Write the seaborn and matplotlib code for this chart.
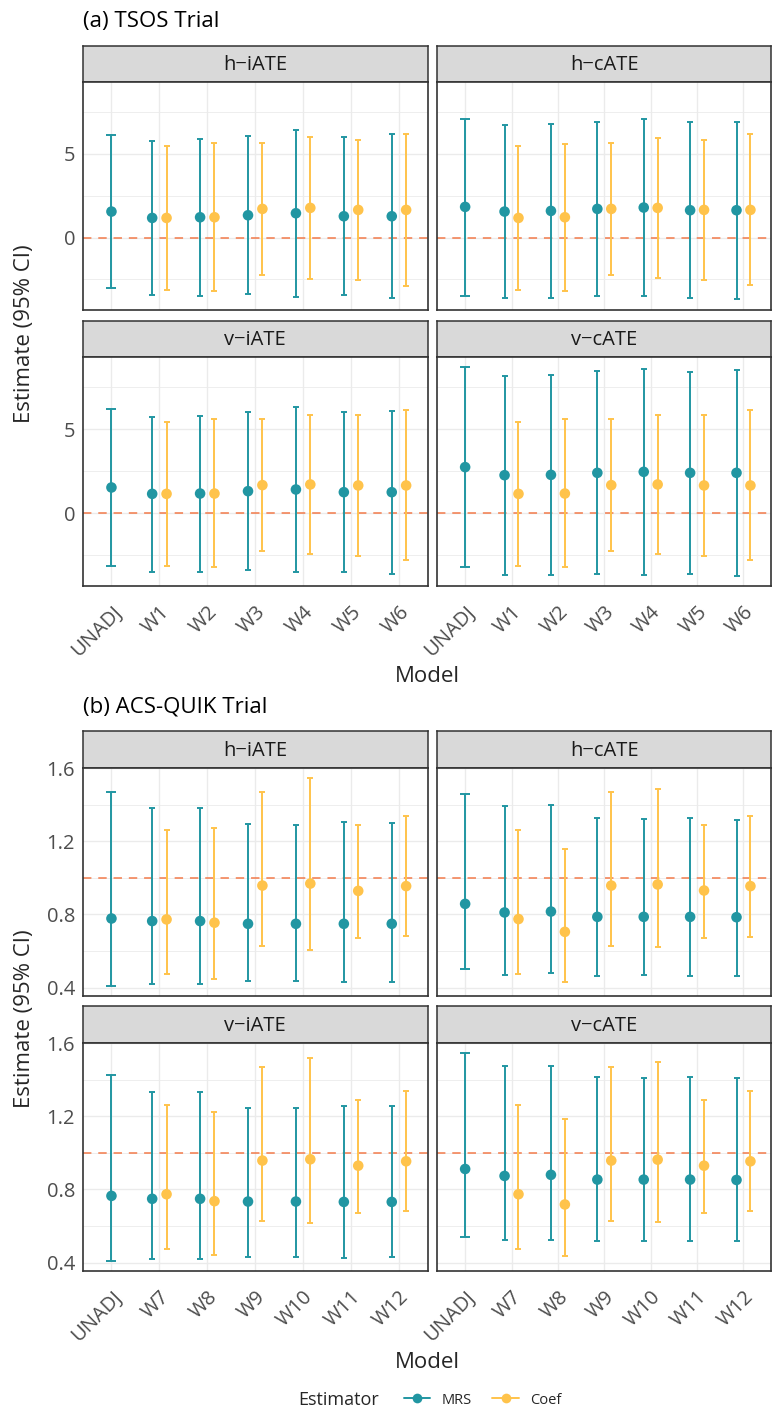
import numpy as np
import pandas as pd
import matplotlib
matplotlib.use("Agg")
import matplotlib.pyplot as plt
import seaborn as sns
from matplotlib.lines import Line2D

sns.set_theme(style="white")
plt.rcParams['font.family'] = ['Open Sans', 'DejaVu Sans']

# ---------------- data ----------------
panel_names = ["h\u2212iATE", "h\u2212cATE", "v\u2212iATE", "v\u2212cATE"]
tsos_models = ["UNADJ", "W1", "W2", "W3", "W4", "W5", "W6"]
acs_models = ["UNADJ", "W7", "W8", "W9", "W10", "W11", "W12"]

# TSOS trial: MRS (all models), Coef (adjusted models only)
tsos_mrs_est = [[1.55, 1.17, 1.21, 1.33, 1.45, 1.27, 1.27],
                [1.83, 1.55, 1.59, 1.71, 1.79, 1.63, 1.63],
                [1.53, 1.15, 1.17, 1.31, 1.41, 1.25, 1.25],
                [2.74, 2.26, 2.28, 2.40, 2.46, 2.40, 2.40]]
tsos_mrs_lo = [[-3.02, -3.41, -3.47, -3.35, -3.53, -3.45, -3.61],
               [-3.49, -3.61, -3.59, -3.49, -3.51, -3.63, -3.69],
               [-3.12, -3.47, -3.47, -3.37, -3.47, -3.47, -3.59],
               [-3.21, -3.65, -3.65, -3.59, -3.65, -3.63, -3.71]]
tsos_mrs_hi = [[6.11, 5.77, 5.89, 6.05, 6.43, 6.01, 6.17],
               [7.08, 6.73, 6.77, 6.88, 7.06, 6.88, 6.92],
               [6.17, 5.75, 5.81, 6.03, 6.29, 5.99, 6.09],
               [8.67, 8.17, 8.21, 8.43, 8.59, 8.41, 8.49]]
tsos_coef_est = [[1.17, 1.21, 1.71, 1.77, 1.65, 1.65],
                 [1.17, 1.21, 1.71, 1.77, 1.65, 1.65],
                 [1.15, 1.17, 1.67, 1.71, 1.65, 1.65],
                 [1.15, 1.17, 1.67, 1.71, 1.65, 1.65]]
tsos_coef_lo = [[-3.12, -3.19, -2.24, -2.48, -2.52, -2.88],
                [-3.12, -3.19, -2.24, -2.44, -2.52, -2.84],
                [-3.15, -3.19, -2.24, -2.42, -2.54, -2.80],
                [-3.13, -3.19, -2.22, -2.40, -2.52, -2.78]]
tsos_coef_hi = [[5.46, 5.62, 5.65, 5.99, 5.85, 6.21],
                [5.44, 5.58, 5.63, 5.93, 5.85, 6.17],
                [5.44, 5.58, 5.62, 5.83, 5.83, 6.11],
                [5.44, 5.58, 5.62, 5.83, 5.83, 6.11]]

# ACS-QUIK trial
acs_mrs_est = [[0.778, 0.764, 0.764, 0.749, 0.749, 0.749, 0.749],
               [0.858, 0.811, 0.816, 0.787, 0.787, 0.787, 0.785],
               [0.765, 0.749, 0.749, 0.734, 0.734, 0.732, 0.732],
               [0.912, 0.874, 0.880, 0.854, 0.854, 0.854, 0.852]]
acs_mrs_lo = [[0.411, 0.422, 0.422, 0.435, 0.436, 0.429, 0.431],
              [0.504, 0.471, 0.478, 0.465, 0.467, 0.465, 0.465],
              [0.411, 0.420, 0.420, 0.433, 0.433, 0.428, 0.429],
              [0.540, 0.522, 0.526, 0.517, 0.518, 0.517, 0.517]]
acs_mrs_hi = [[1.467, 1.384, 1.380, 1.293, 1.289, 1.305, 1.302],
              [1.458, 1.393, 1.396, 1.329, 1.322, 1.327, 1.318],
              [1.428, 1.333, 1.331, 1.246, 1.244, 1.259, 1.255],
              [1.544, 1.473, 1.473, 1.417, 1.409, 1.413, 1.408]]
acs_coef_est = [[0.773, 0.755, 0.958, 0.969, 0.929, 0.955],
                [0.775, 0.705, 0.958, 0.964, 0.931, 0.955],
                [0.774, 0.736, 0.958, 0.965, 0.930, 0.954],
                [0.774, 0.718, 0.958, 0.963, 0.930, 0.954]]
acs_coef_lo = [[0.475, 0.447, 0.625, 0.607, 0.671, 0.682],
               [0.475, 0.431, 0.625, 0.622, 0.671, 0.678],
               [0.477, 0.444, 0.625, 0.615, 0.674, 0.683],
               [0.477, 0.438, 0.625, 0.622, 0.674, 0.680]]
acs_coef_hi = [[1.260, 1.271, 1.469, 1.544, 1.287, 1.336],
               [1.262, 1.158, 1.471, 1.485, 1.289, 1.338],
               [1.261, 1.226, 1.469, 1.518, 1.290, 1.339],
               [1.261, 1.183, 1.469, 1.495, 1.291, 1.339]]

estimators = ["MRS", "Coef"]
colors = {"MRS": "#2196A2", "Coef": "#FFC34B"}
ref_color = "#F27A4A"
dodge = {"MRS": -0.15, "Coef": 0.15}


def build_df(models, m_est, m_lo, m_hi, c_est, c_lo, c_hi):
    rows = []
    for p, pname in enumerate(panel_names):
        for i, m in enumerate(models):
            off = 0.0 if m == "UNADJ" else dodge["MRS"]
            rows.append(dict(panel=pname, model=m, estimator="MRS", x=i + off,
                             est=m_est[p][i], lo=m_lo[p][i], hi=m_hi[p][i]))
        for j, m in enumerate(models[1:]):
            i = j + 1
            rows.append(dict(panel=pname, model=m, estimator="Coef", x=i + dodge["Coef"],
                             est=c_est[p][j], lo=c_lo[p][j], hi=c_hi[p][j]))
    return pd.DataFrame(rows)


df_tsos = build_df(tsos_models, tsos_mrs_est, tsos_mrs_lo, tsos_mrs_hi,
                   tsos_coef_est, tsos_coef_lo, tsos_coef_hi)
df_acs = build_df(acs_models, acs_mrs_est, acs_mrs_lo, acs_mrs_hi,
                  acs_coef_est, acs_coef_lo, acs_coef_hi)

# ---------------- layout ----------------
W, H = 772, 1412
fig = plt.figure(figsize=(W / 100, H / 100), dpi=100)
fig.patch.set_facecolor("white")


def px_axes(x0, y0, x1, y1):
    return fig.add_axes([x0 / W, 1 - y1 / H, (x1 - x0) / W, (y1 - y0) / H])


col_x = [(82.7, 427.7), (437.3, 771.3)]
border = "#333333"


def draw_strip(x0, x1, y0, y1, label):
    sa = px_axes(x0, y0, x1, y1)
    sa.set_facecolor("#D9D9D9")
    sa.set_xticks([]); sa.set_yticks([])
    for s in sa.spines.values():
        s.set_color(border); s.set_linewidth(1.1); s.set_visible(True)
    sa.text(0.5, 0.47, label, ha="center", va="center", fontsize=14.5, color="#1A1A1A",
            transform=sa.transAxes)


def draw_section(df, models, rows_y, strips_y, ref, yticks, yminor, ticklabels):
    lo_all, hi_all = df["lo"].min(), df["hi"].max()
    rng = hi_all - lo_all
    ylim = (lo_all - 0.05 * rng, hi_all + 0.05 * rng)
    for p, pname in enumerate(panel_names):
        r, c = divmod(p, 2)
        x0, x1 = col_x[c]
        y0, y1 = rows_y[r]
        draw_strip(x0, x1, strips_y[r][0], strips_y[r][1], pname)
        ax = px_axes(x0, y0, x1, y1)
        sub = df[df["panel"] == pname]
        ax.set_xlim(-0.6, len(models) - 0.4)
        ax.set_ylim(ylim)
        ax.set_xticks(range(len(models)))
        ax.set_yticks(yticks)
        ax.set_yticks(yminor, minor=True)
        ax.grid(which="major", color="#EBEBEB", lw=1.0)
        ax.grid(which="minor", axis="y", color="#EBEBEB", lw=0.6)
        ax.set_axisbelow(True)
        ax.axhline(ref, color=ref_color, lw=1.1, ls=(0, (5.5, 4.5)), zorder=1.5)
        for est in estimators:
            s = sub[sub["estimator"] == est]
            for is_un, cap in ((True, 3.6), (False, 1.9)):
                ss = s[(s["model"] == "UNADJ") == is_un]
                if len(ss) == 0:
                    continue
                ax.errorbar(ss["x"], ss["est"],
                            yerr=[ss["est"] - ss["lo"], ss["hi"] - ss["est"]],
                            fmt="none", ecolor=colors[est], elinewidth=1.4,
                            capsize=cap, capthick=1.4, zorder=2)
        sns.scatterplot(data=sub, x="x", y="est", hue="estimator", palette=colors,
                        hue_order=estimators, s=58, edgecolor="none", linewidth=0,
                        legend=False, ax=ax, zorder=3)
        ax.set_xlabel(""); ax.set_ylabel("")
        for s_ in ax.spines.values():
            s_.set_color(border); s_.set_linewidth(1.2); s_.set_visible(True)
        ax.tick_params(axis="both", which="major", length=3.5, width=1.0, color=border,
                       labelcolor="#4D4D4D", labelsize=14.5, pad=2)
        ax.tick_params(axis="both", which="minor", length=0)
        ax.set_yticklabels(ticklabels)
        if r == 1:
            ax.set_xticklabels(models, rotation=45, ha="right", va="top",
                               rotation_mode="anchor")
            ax.tick_params(axis="x", pad=8)
        else:
            ax.tick_params(axis="x", bottom=False, labelbottom=False)
        if c == 1:
            ax.tick_params(axis="y", left=False, labelleft=False)


# section (a)
fig.text(83 / W, 1 - 21 / H, "(a) TSOS Trial", fontsize=16, ha="left", va="center",
         color="black")
draw_section(df_tsos, tsos_models, [(82, 310), (357, 586)], [(46, 82), (321, 357)],
             0, [0, 5], [-2.5, 2.5, 7.5], ["0", "5"])
fig.text(427 / W, 1 - 676 / H, "Model", fontsize=16, ha="center", va="center")
fig.text(25 / W, 1 - 334 / H, "Estimate (95% CI)", fontsize=16, rotation=90,
         ha="center", va="center")

# section (b)
fig.text(83 / W, 1 - 707 / H, "(b) ACS-QUIK Trial", fontsize=16, ha="left", va="center",
         color="black")
draw_section(df_acs, acs_models, [(768, 996), (1043, 1271)], [(731, 768), (1006, 1043)],
             1, [0.4, 0.8, 1.2, 1.6], [0.6, 1.0, 1.4], ["0.4", "0.8", "1.2", "1.6"])
fig.text(427 / W, 1 - 1363 / H, "Model", fontsize=16, ha="center", va="center")
fig.text(25 / W, 1 - 1019 / H, "Estimate (95% CI)", fontsize=16, rotation=90,
         ha="center", va="center")

# legend
fig.text(298 / W, 1 - 1400 / H, "Estimator", fontsize=13, ha="left", va="center")
handles = [Line2D([0], [0], color=colors[e], lw=1.4, marker="o", ms=7, mec="none")
           for e in estimators]
fig.legend(handles=handles, labels=estimators, loc="center left",
           bbox_to_anchor=(404 / W, 1 - 1400 / H), ncol=2, frameon=False, fontsize=10.5,
           handlelength=1.8, handletextpad=0.8, columnspacing=1.4, borderaxespad=0,
           borderpad=0)

fig.savefig("out.png", dpi=100, facecolor="white")
